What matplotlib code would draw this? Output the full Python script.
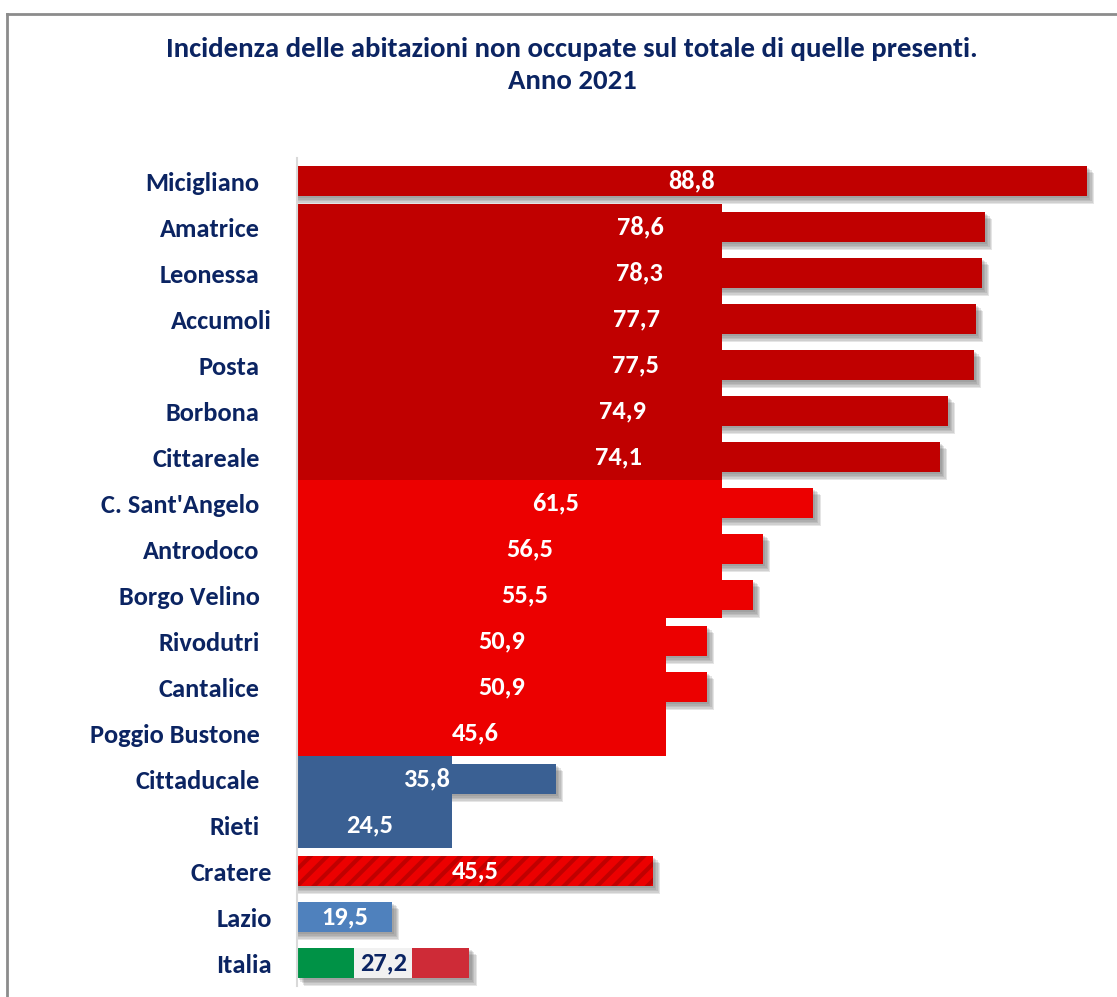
import numpy as np
import matplotlib
matplotlib.use("Agg")
import matplotlib.pyplot as plt
import matplotlib.patheffects as pe
from matplotlib.lines import Line2D
from matplotlib.transforms import ScaledTranslation

# dati (valori %)
comuni = ["Micigliano", "Amatrice", "Leonessa", "Accumoli", "Posta", "Borbona",
          "Cittareale", "C. Sant'Angelo", "Antrodoco", "Borgo Velino", "Rivodutri",
          "Cantalice", "Poggio Bustone", "Cittaducale", "Rieti", "Cratere", "Lazio",
          "Italia"]
valori = [88.8, 78.6, 78.3, 77.7, 77.5, 74.9, 74.1, 61.5, 56.5, 55.5, 50.9,
          50.9, 45.6, 35.8, 24.5, 45.5, 19.5, 27.2]
# blocchi di sfondo dietro ai gruppi di comuni
fasce = [None, 52.4, 52.4, 52.4, 52.4, 52.4, 52.4, 52.4, 52.4, 52.4, 46.8,
         46.8, 46.8, 25.5, 25.5, None, None, None]

NAVY = "#0B2462"
DARK_RED = "#C00000"
RED = "#EC0000"
BLUE = "#3A6093"
LIGHT_BLUE = "#4F81BD"

colori = [DARK_RED] * 7 + [RED] * 6 + [BLUE] * 2 + [RED, LIGHT_BLUE, None]
colori_fasce = [None] + [DARK_RED] * 6 + [RED] * 6 + [BLUE] * 2 + [None] * 3
spostati = ["Accumoli", "Cratere", "Lazio", "Italia"]

plt.rcParams["font.family"] = ["Carlito", "DejaVu Sans"]
plt.rcParams["hatch.linewidth"] = 3.0

X0, X1 = 10, 90


def main():
    fig = plt.figure(figsize=(11.17, 9.97), dpi=100)
    ax = fig.add_axes([297 / 1117, 1 - 986 / 997, 802 / 1117, 828 / 997])

    # ombra sfumata: piu' ombre sovrapposte a trasparenza bassa
    ombra = [pe.SimplePatchShadow(offset=(d, -d), shadow_rgbFace="#606060", alpha=0.16)
             for d in (1.5, 2.5, 3.5, 4.5, 5.2)] + [pe.Normal()]

    y = np.arange(len(comuni))
    for i, v in enumerate(valori):
        if comuni[i] == "Italia":
            terzo = (v - X0) / 3
            for k, c in enumerate(["#009246", "#F1F1F1", "#CE2B37"]):
                ax.barh(y[i], terzo, left=X0 + k * terzo, height=0.67, color=c,
                        path_effects=ombra, zorder=2)
        elif comuni[i] == "Cratere":
            ax.barh(y[i], v, height=0.67, color=RED, path_effects=ombra, zorder=2)
            ax.barh(y[i], v, height=0.67, color="none", hatch="//", edgecolor=DARK_RED,
                    linewidth=0, zorder=2.5)
        else:
            ax.barh(y[i], v, height=0.67, color=colori[i], path_effects=ombra, zorder=2)

        if fasce[i] is not None:
            ax.barh(y[i], fasce[i], height=1.0, color=colori_fasce[i], zorder=3)

        col = NAVY if comuni[i] == "Italia" else "white"
        ax.text((X0 + v) / 2, y[i], f"{v:.1f}".replace(".", ","), ha="center",
                va="center", color=col, fontsize=19, fontweight="bold", zorder=5)

    ax.set_xlim(X0, X1)
    ax.set_ylim(len(comuni) - 0.5, -0.5)
    ax.set_xticks([])
    ax.set_yticks(y, comuni)
    ax.tick_params(axis="y", length=0, pad=27)
    for lab in ax.get_yticklabels():
        lab.set_fontsize(19)
        lab.set_fontweight("bold")
        lab.set_color(NAVY)
        if lab.get_text() in spostati:
            lab.set_transform(lab.get_transform() + ScaledTranslation(0.12, 0, fig.dpi_scale_trans))

    for s in ["top", "right", "bottom"]:
        ax.spines[s].set_visible(False)
    ax.spines["left"].set_color("#D9D9D9")
    ax.spines["left"].set_linewidth(1.5)
    ax.spines["left"].set_zorder(6)

    fig.text(572 / 1117, 1 - 65 / 997,
             "Incidenza delle abitazioni non occupate sul totale di quelle presenti.\nAnno 2021",
             ha="center", va="center", fontsize=20.7, fontweight="bold", color=NAVY,
             linespacing=1.38)

    # cornice del grafico
    fig.add_artist(Line2D([7 / 1117, 7 / 1117], [0, 1 - 14 / 997], color="#8C8C8C", lw=2))
    fig.add_artist(Line2D([7 / 1117, 1], [1 - 14 / 997, 1 - 14 / 997], color="#8C8C8C", lw=2))

    fig.savefig("out.png", dpi=100)


if __name__ == '__main__':
    main()
